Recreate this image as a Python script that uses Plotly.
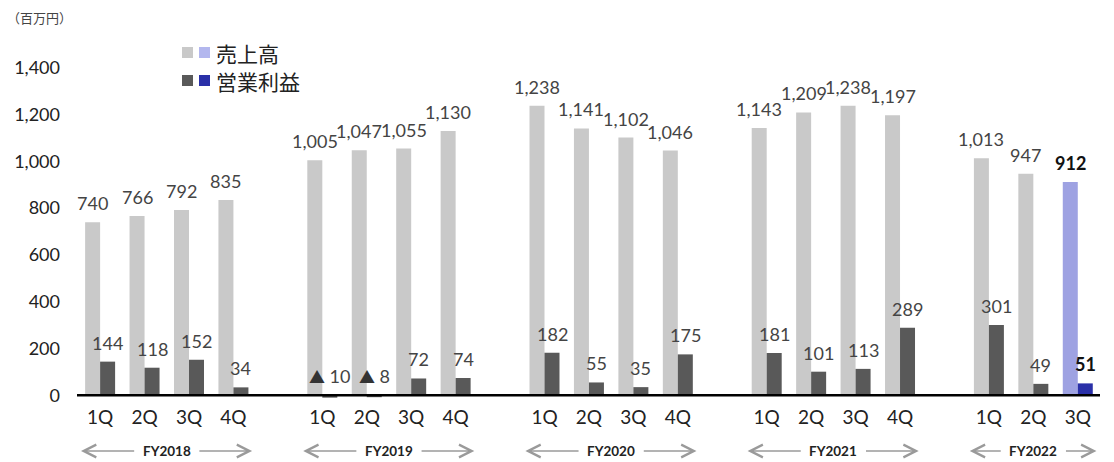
import plotly.graph_objects as go

# ---------------- data ----------------
fiscal_years = ["FY2018", "FY2019", "FY2020", "FY2021", "FY2022"]
quarters = ["1Q", "2Q", "3Q", "4Q"]
sales = [
    [740, 766, 792, 835],
    [1005, 1047, 1055, 1130],
    [1238, 1141, 1102, 1046],
    [1143, 1209, 1238, 1197],
    [1013, 947, 912],
]
profit = [
    [144, 118, 152, 34],
    [-10, -8, 72, 74],
    [182, 55, 35, 175],
    [181, 101, 113, 289],
    [301, 49, 51],
]
y_ticks = [0, 200, 400, 600, 800, 1000, 1200, 1400]
unit_label = "（百万円）"
legend_names = ["売上高", "営業利益"]

# ---------------- layout constants ----------------
W, H = 1114, 462
ML, MR, MT, MB = 77, 14, 21, 62
GROUP_SLOTS = 5
BARGAP = 0.325
GRAY_S, GRAY_P = "#c9c9c9", "#595959"
BLUE_S, BLUE_P = "#9ea2e2", "#2a30a8"
LEG_BLUE_S = "#b3b7ee"
FONT = "Lato, 'Noto Sans CJK JP', sans-serif"
CJK = "'Noto Sans CJK JP', sans-serif"

pw, ph = W - ML - MR, H - MT - MB


def px_x(p):
    return (p - ML) / pw


def px_y(p):
    return (H - MB - p) / ph


# ---------------- build series ----------------
xs, s_vals, p_vals, tick_text = [], [], [], []
s_cols, p_cols = [], []
for g, (sv, pv) in enumerate(zip(sales, profit)):
    for q, (a, b) in enumerate(zip(sv, pv)):
        xs.append(g * GROUP_SLOTS + q)
        s_vals.append(a)
        p_vals.append(b)
        tick_text.append(quarters[q])
        last = (g == len(sales) - 1 and q == len(sv) - 1)
        s_cols.append(BLUE_S if last else GRAY_S)
        p_cols.append(BLUE_P if last else GRAY_P)

fig = go.Figure()
fig.add_bar(x=xs, y=s_vals, marker_color=s_cols, marker_line_width=0,
            name=legend_names[0], showlegend=False, hoverinfo="skip")
fig.add_bar(x=xs, y=p_vals, marker_color=p_cols, marker_line_width=0,
            name=legend_names[1], showlegend=False, hoverinfo="skip")

annotations = []
half = (1 - BARGAP) / 4.0
n = len(xs)
for i, (x, a, b) in enumerate(zip(xs, s_vals, p_vals)):
    last = i == n - 1
    fnt = dict(family=FONT, size=18, color="#111111" if last else "#444444",
               weight="bold" if last else "normal")
    annotations.append(dict(x=x - half, y=a, xref="x", yref="y", text=f"{a:,}",
                            showarrow=False, yanchor="middle", yshift=19,
                            font=fnt))
    if b < 0:
        ptxt = f"<span style='font-size:16px;color:#333333'>▲</span> {abs(b):,}"
    else:
        ptxt = f"{b:,}"
    annotations.append(dict(x=x + half, y=max(b, 0), xref="x", yref="y", text=ptxt,
                            showarrow=False, yanchor="middle", yshift=19,
                            font=fnt))

# fiscal-year labels with arrows
fy_y = px_y(451)
for g, (fy, sv) in enumerate(zip(fiscal_years, sales)):
    first = g * GROUP_SLOTS
    lastq = first + len(sv) - 1
    c = (first + lastq) / 2
    annotations.append(dict(x=c, y=fy_y, xref="x", yref="paper", text=f"<b>{fy}</b>",
                            showarrow=False, yanchor="middle", xanchor="center",
                            font=dict(family=FONT, size=13.5, color="#222222")))
    for tip, tail in ((first - 0.43, c - 0.7), (lastq + 0.42, c + 0.7)):
        annotations.append(dict(x=tip, y=fy_y, xref="x", yref="paper",
                                ax=tail, ay=0, axref="x", text="",
                                showarrow=True, arrowhead=5, arrowsize=1.9,
                                arrowwidth=1.3, arrowcolor="#9a9a9a"))

# unit label
annotations.append(dict(x=px_x(5), y=px_y(17), xref="paper", yref="paper",
                        text=unit_label, showarrow=False, xanchor="left", yanchor="middle",
                        font=dict(family=CJK, size=13, color="#444444")))

# custom legend
shapes = []
for row, (name, cg, cb) in enumerate(zip(legend_names, [GRAY_S, GRAY_P], [LEG_BLUE_S, BLUE_P])):
    yc = 52.5 + row * 28
    for x0, col in ((182, cg), (199, cb)):
        shapes.append(dict(type="rect", xref="paper", yref="paper",
                           x0=px_x(x0), x1=px_x(x0 + 11),
                           y0=px_y(yc + 5.5), y1=px_y(yc - 5.5),
                           fillcolor=col, line_width=0))
    annotations.append(dict(x=px_x(214), y=px_y(yc), xref="paper", yref="paper",
                            text=name, showarrow=False, xanchor="left", yanchor="middle",
                            font=dict(family=CJK, size=21, color="#222222")))

# zero line
shapes.append(dict(type="line", xref="paper", yref="y", x0=0, x1=1, y0=0, y1=0,
                   line=dict(color="#000000", width=2.5), layer="above"))

fig.update_layout(
    width=W, height=H,
    margin=dict(l=ML, r=MR, t=MT, b=MB, pad=0),
    paper_bgcolor="white", plot_bgcolor="white",
    barmode="group", bargap=BARGAP, bargroupgap=0,
    annotations=annotations, shapes=shapes,
    showlegend=False,
    xaxis=dict(range=[-0.52, 22.5], tickmode="array", tickvals=xs, ticktext=tick_text,
               showgrid=False, zeroline=False, showline=False, ticks="",
               tickfont=dict(family=FONT, size=19, color="#222222"),
               ticklabelstandoff=4),
    yaxis=dict(range=[-20, 1600], tickmode="array", tickvals=y_ticks,
               ticktext=[f"{v:,}" for v in y_ticks],
               showgrid=False, zeroline=False, showline=False, ticks="",
               tickfont=dict(family=FONT, size=18, color="#222222"),
               ticklabelstandoff=16),
)

fig.write_html("out.html")
